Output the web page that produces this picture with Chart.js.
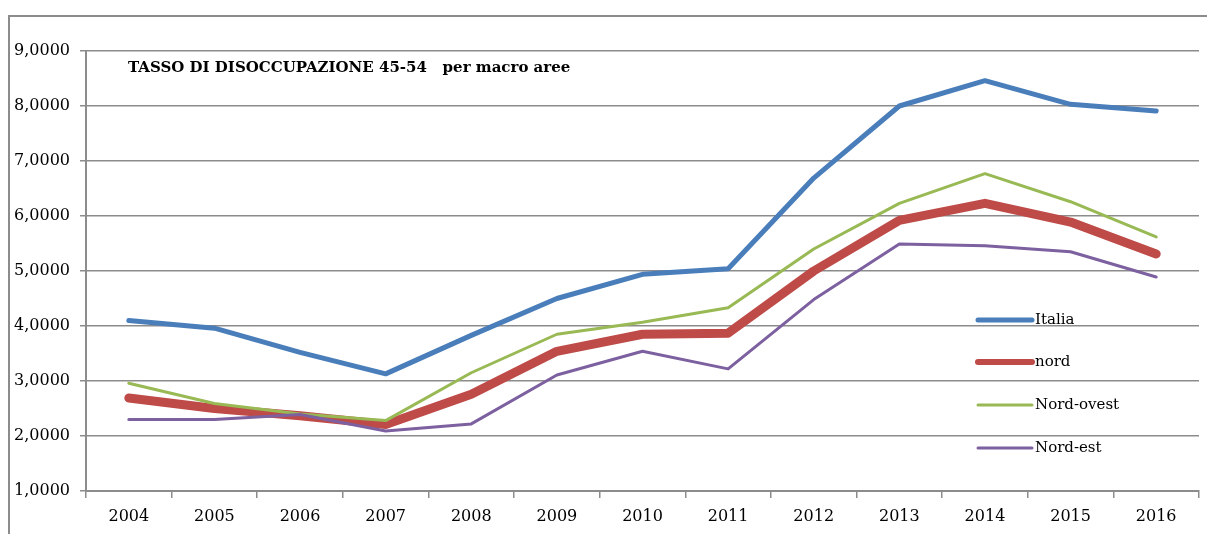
<!DOCTYPE html>
<html>
<head>
<meta charset="utf-8">
<script src="https://cdn.jsdelivr.net/npm/chart.js@4"></script>
<style>
    html, body { margin: 0; padding: 0; background: #fff; }
    #wrap { position: relative; width: 1207px; height: 534px; }
    #frame { position: absolute; left: 8px; top: 15px; width: 1199px; height: 530px;
             border-left: 2px solid #8c8c8c; border-top: 2px solid #8c8c8c; box-sizing: border-box; }
    canvas { position: absolute; left: 0; top: 0; }
</style>
</head>
<body>
<div id="wrap">
    <div id="frame"></div>
    <canvas id="chart" width="1207" height="534"></canvas>
</div>
<script>
// Dati: tasso di disoccupazione 45-54 per macro aree
const years = ['2004', '2005', '2006', '2007', '2008', '2009', '2010', '2011', '2012', '2013', '2014', '2015', '2016'];
const italia = [4.10, 3.96, 3.52, 3.13, 3.83, 4.50, 4.94, 5.04, 6.69, 8.00, 8.46, 8.03, 7.91];
const nord = [2.69, 2.50, 2.37, 2.21, 2.76, 3.54, 3.85, 3.87, 5.00, 5.92, 6.23, 5.89, 5.31];
const nordOvest = [2.96, 2.59, 2.40, 2.28, 3.15, 3.85, 4.07, 4.33, 5.40, 6.23, 6.77, 6.26, 5.62];
const nordEst = [2.30, 2.30, 2.39, 2.09, 2.22, 3.11, 3.54, 3.22, 4.48, 5.49, 5.46, 5.35, 4.89];
const yTicks = [1, 2, 3, 4, 5, 6, 7, 8, 9];
const chartTitle = 'TASSO DI DISOCCUPAZIONE 45-54   per macro aree';

const FONT = '"DejaVu Serif", "Liberation Serif", serif';
const GRID = '#8c8c8c';

const series = [
    { label: 'Italia', data: italia, color: '#4a7ebb', width: 5, order: 4 },
    { label: 'nord', data: nord, color: '#be4b48', width: 9, order: 3 },
    { label: 'Nord-ovest', data: nordOvest, color: '#98b954', width: 3, order: 2 },
    { label: 'Nord-est', data: nordEst, color: '#7d60a0', width: 3, order: 1 }
];

// titolo dentro l'area del grafico
const titlePlugin = {
    id: 'innerTitle',
    afterDraw(chart) {
        const ctx = chart.ctx;
        ctx.save();
        ctx.font = 'bold 15px ' + FONT;
        ctx.fillStyle = '#000';
        ctx.textBaseline = 'middle';
        ctx.fillText(chartTitle, 128, 68);
        ctx.restore();
    }
};

// legenda verticale a destra, come nell'originale
const legendPlugin = {
    id: 'innerLegend',
    afterDraw(chart) {
        const ctx = chart.ctx;
        const rows = [320, 362, 405, 448];
        ctx.save();
        chart.data.datasets.forEach((ds, i) => {
            const y = rows[i];
            ctx.strokeStyle = ds.borderColor;
            ctx.lineWidth = i === 1 ? 6 : (i === 0 ? 5 : 3);
            ctx.lineCap = 'round';
            ctx.beginPath();
            ctx.moveTo(978, y);
            ctx.lineTo(1032, y);
            ctx.stroke();
            ctx.font = '15px ' + FONT;
            ctx.fillStyle = '#000';
            ctx.textBaseline = 'middle';
            ctx.fillText(ds.label, 1035, y);
        });
        ctx.restore();
    }
};

new Chart(document.getElementById('chart').getContext('2d'), {
    type: 'line',
    data: {
        labels: years,
        datasets: series.map(s => ({
            label: s.label,
            data: s.data,
            borderColor: s.color,
            backgroundColor: s.color,
            borderWidth: s.width,
            borderCapStyle: 'round',
            borderJoinStyle: 'round',
            pointRadius: 0,
            tension: 0,
            fill: false,
            order: s.order
        }))
    },
    options: {
        responsive: false,
        animation: false,
        layout: { padding: { top: 51, right: 8, left: 0, bottom: 0 } },
        plugins: {
            legend: { display: false },
            title: { display: false },
            tooltip: { enabled: false }
        },
        scales: {
            x: {
                offset: true,
                grid: { display: true, drawOnChartArea: false, offset: true, color: GRID, lineWidth: 1.5, tickLength: 7 },
                border: { color: GRID, width: 2 },
                ticks: { color: '#000', font: { family: FONT, size: 16 }, padding: 9, maxRotation: 0 },
                afterFit(scale) { scale.height = 43; }
            },
            y: {
                min: 1,
                max: 9,
                afterBuildTicks(scale) { scale.ticks = yTicks.map(v => ({ value: v })); },
                grid: { color: GRID, lineWidth: 1.5, tickLength: 6 },
                border: { color: GRID, width: 2 },
                ticks: {
                    color: '#000',
                    font: { family: FONT, size: 16 },
                    padding: 10,
                    callback: v => v.toFixed(4).replace('.', ',')
                },
                afterFit(scale) { scale.width = 86; }
            }
        }
    },
    plugins: [titlePlugin, legendPlugin]
});
</script>
</body>
</html>
